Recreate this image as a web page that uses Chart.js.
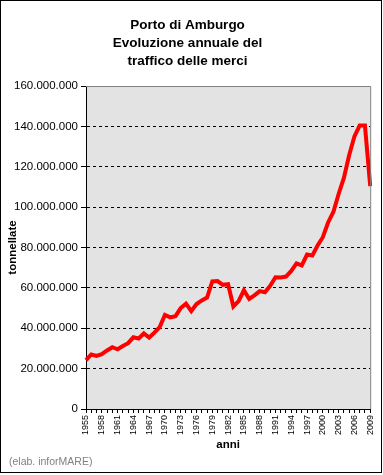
<!DOCTYPE html>
<html>
<head>
<meta charset="utf-8">
<script src="https://cdn.jsdelivr.net/npm/chart.js@4"></script>
<style>
  body { margin: 0; background: #fff; }
  canvas { display: block; }
</style>
</head>
<body>
<canvas id="porto" width="383" height="475"></canvas>
<script>
// anni 1955 - 2009
const anni = [];
for (let a = 1955; a <= 2009; a++) anni.push(String(a));

// tonnellate movimentate
const tonnellate = [
  24200000, 27000000, 26300000, 27200000, 29000000, 30600000, 29600000, 31200000, 32600000, 35500000,
  34900000, 37400000, 35400000, 37800000, 40600000, 46600000, 45400000, 46000000, 50000000, 52200000,
  48500000, 52000000, 53800000, 55200000, 63200000, 63400000, 61500000, 61800000, 50800000, 53400000,
  58800000, 54500000, 56300000, 58400000, 57800000, 61000000, 65300000, 65200000, 65600000, 68400000,
  72100000, 71100000, 76500000, 76000000, 81000000, 85100000, 92400000, 97600000, 106500000, 114500000,
  125700000, 135000000, 140400000, 140400000, 110400000
];

const titolo = ['Porto di Amburgo', 'Evoluzione annuale del', 'traffico delle merci'];
const fonte = '(elab. inforMARE)';

const font = 'Liberation Sans, Arial, sans-serif';

function puntini(v) {
  return String(v).replace(/\B(?=(\d{3})+(?!\d))/g, '.');
}

// sfondo, bordi e nota fonte
const cornice = {
  id: 'cornice',
  beforeDraw(chart) {
    const ctx = chart.ctx;
    const a = chart.chartArea;
    ctx.save();
    ctx.fillStyle = '#fff';
    ctx.fillRect(0, 0, chart.width, chart.height);
    ctx.fillStyle = '#e3e3e3';
    ctx.fillRect(a.left, a.top, a.right - a.left, a.bottom - a.top);
    ctx.restore();
  },
  afterDraw(chart) {
    const ctx = chart.ctx;
    const a = chart.chartArea;
    ctx.save();
    ctx.strokeStyle = '#808080';
    ctx.lineWidth = 1;
    ctx.beginPath();
    ctx.moveTo(a.left, a.top + 0.5);
    ctx.lineTo(a.right + 0.5, a.top + 0.5);
    ctx.lineTo(a.right + 0.5, a.bottom);
    ctx.stroke();
    ctx.strokeStyle = '#000';
    ctx.strokeRect(0.5, 0.5, 381, 472);
    ctx.fillStyle = '#808080';
    ctx.font = '10.5px ' + font;
    ctx.textBaseline = 'middle';
    ctx.fillText(fonte, 9, 462);
    ctx.restore();
  }
};

new Chart(document.getElementById('porto'), {
  type: 'line',
  data: {
    labels: anni,
    datasets: [{
      data: tonnellate,
      borderColor: '#ff0000',
      borderWidth: 4,
      pointRadius: 0,
      tension: 0,
      fill: false
    }]
  },
  options: {
    responsive: false,
    animation: false,
    devicePixelRatio: 1,
    layout: { padding: { left: 0, right: 8, top: 0, bottom: 0 } },
    plugins: {
      legend: { display: false },
      tooltip: { enabled: false },
      title: {
        display: true,
        text: titolo,
        color: '#000',
        font: { family: font, size: 13.5, weight: 'bold', lineHeight: 18 / 13.5 },
        padding: { top: 16, bottom: 16 }
      }
    },
    scales: {
      x: {
        offset: false,
        afterFit(scale) { scale.height = 66; },
        grid: { drawOnChartArea: false, tickLength: 4, tickColor: '#000' },
        border: { color: '#000', width: 1 },
        ticks: {
          autoSkip: false,
          maxRotation: 90,
          minRotation: 90,
          padding: 2,
          color: '#000',
          font: { family: font, size: 9 },
          callback(v, i) { return i % 3 === 0 ? anni[i] : ''; }
        },
        title: {
          display: true,
          text: 'anni',
          color: '#000',
          font: { family: font, size: 11.5, weight: 'bold' },
          padding: { top: 0, bottom: 23 }
        }
      },
      y: {
        min: 0,
        max: 160000000,
        afterFit(scale) { scale.width = 86; },
        grid: {
          color(c) {
            const v = c.tick ? c.tick.value : 0;
            return (v === 0 || v === 160000000) ? 'rgba(0,0,0,0)' : '#000';
          },
          tickLength: 5,
          tickColor: '#000'
        },
        border: { color: '#000', width: 1, dash: [3, 3] },
        ticks: {
          stepSize: 20000000,
          padding: 3,
          color: '#000',
          font: { family: font, size: 11.5 },
          callback(v) { return puntini(v); }
        },
        title: {
          display: true,
          text: 'tonnellate',
          color: '#000',
          font: { family: font, size: 11.5, weight: 'bold' },
          padding: { top: 6, bottom: 0 }
        }
      }
    }
  },
  plugins: [cornice]
});
</script>
</body>
</html>
